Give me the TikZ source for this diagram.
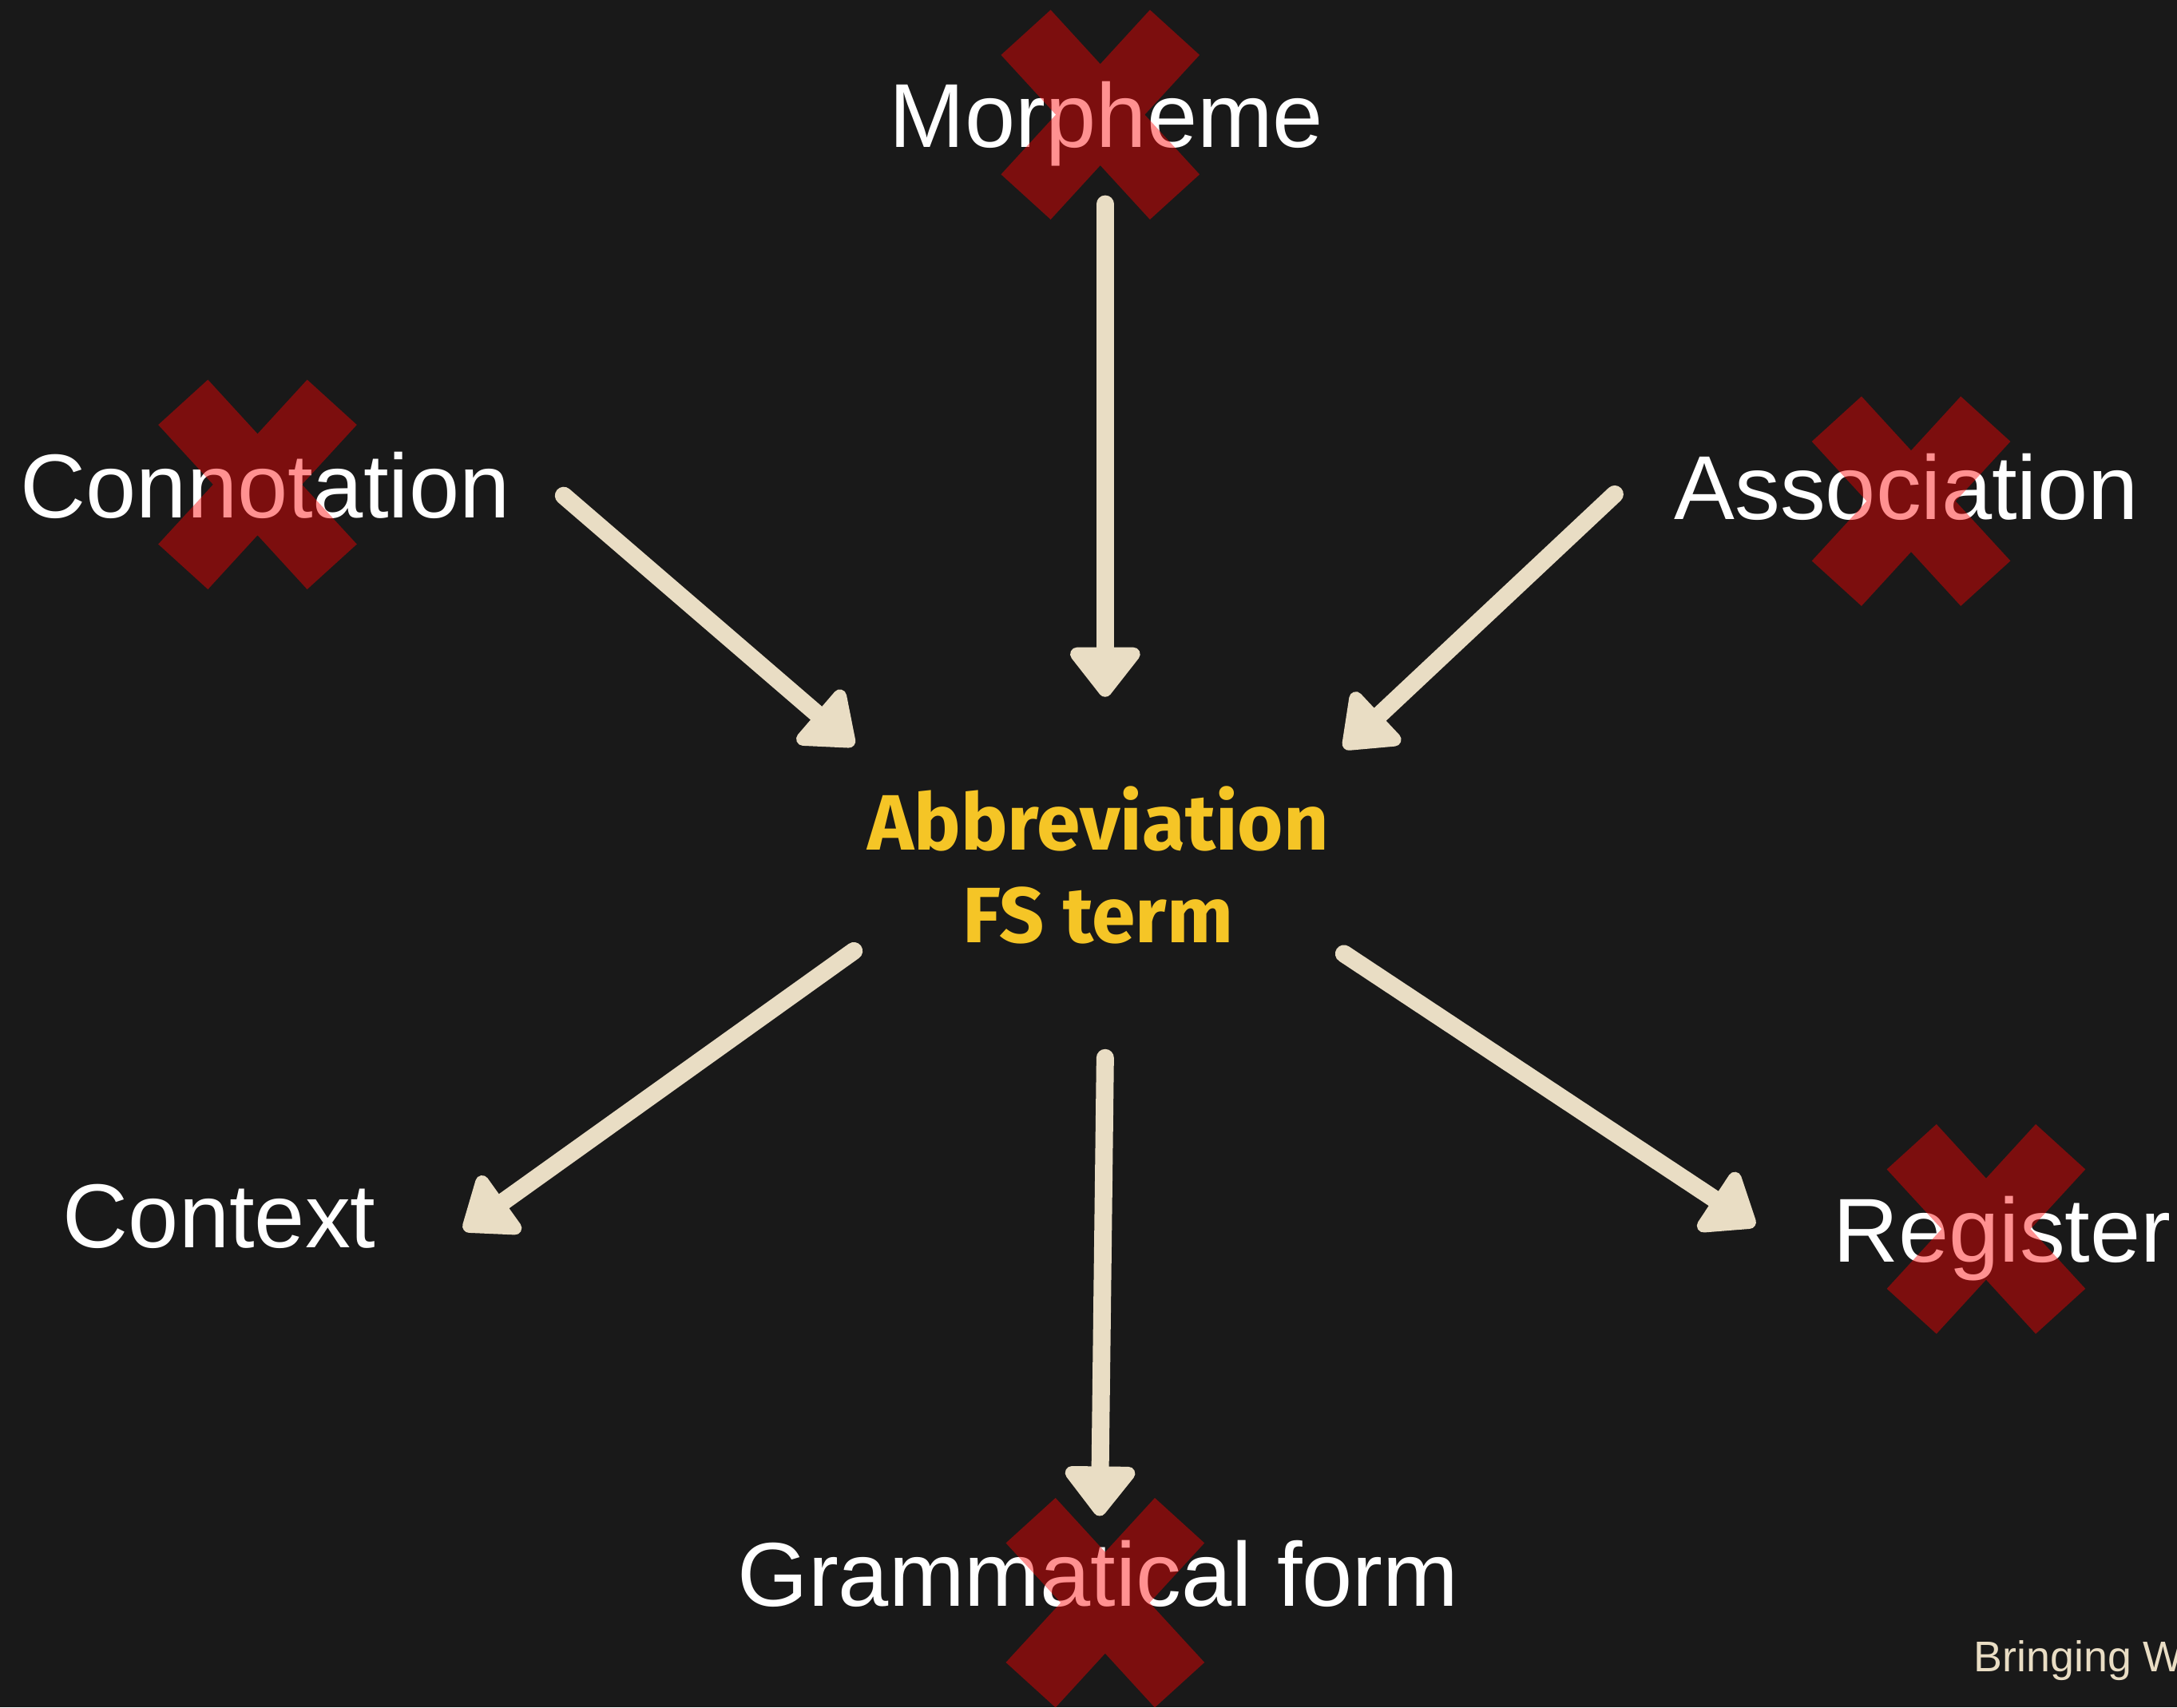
\documentclass[tikz,border=0pt]{standalone}
\usepackage{fontspec}
\setmainfont{Liberation Sans}
\newfontfamily\headfont{Fira Sans}
\usetikzlibrary{arrows.meta}
\definecolor{bgdark}{RGB}{25,25,25}
\definecolor{cream}{RGB}{233,221,196}
\definecolor{termgold}{RGB}{245,197,38}

\begin{document}
\begin{tikzpicture}[x=0.1mm, y=-0.1mm,
      term/.style={text=white, font=\fontsize{18.6}{22}\selectfont, anchor=base, inner sep=0pt},
      arr/.style={-{Triangle[width=5.8mm, length=3.9mm, round]}, line width=3.6pt, line cap=round, draw=cream},
      pics/xmark/.style={code={
        \fill[red, fill opacity=0.43] (-71.5,-43) -- (-35.75,-75.5) -- (0,-36.5) -- (35.75,-75.5)
          -- (71.5,-43) -- (32,0) -- (71.5,43) -- (35.75,75.5) -- (0,36.5) -- (-35.75,75.5)
          -- (-71.5,43) -- (-32,0) -- cycle;}}
  ]
  \useasboundingbox (0,0) rectangle (1568,1230);
  \fill[bgdark] (0,0) rectangle (1568,1230);
  \clip (0,0) rectangle (1568,1230);

  % terms round the centre
  \node[term] (morph) at (797,106) {Morpheme};
  \node[term] (conn) at (191,373) {Connotation};
  \node[term] (assoc) at (1373,374) {Association};
  \node[term] (ctx) at (158,899) {Context};
  \node[term] (reg) at (1442,909) {Register};
  \node[term] (gram) at (791,1157) {Grammatical form};

  \node[anchor=base, align=center, inner sep=0pt, text=termgold,
        font=\headfont\bfseries\fontsize{16.1}{19}\selectfont] (abbr) at (791,679) {Abbreviation\\FS term};

  \node[anchor=base west, inner sep=0pt, text=cream, font=\fontsize{8.8}{10}\selectfont] (credit) at (1421,1204) {Bringing W};

  % arrow ends
  \coordinate (morph-out) at (796,147);
  \coordinate (abbr-n) at (796,502);
  \coordinate (conn-out) at (406,357);
  \coordinate (abbr-nw) at (615,537);
  \coordinate (assoc-out) at (1163,356);
  \coordinate (abbr-ne) at (968,539);
  \coordinate (abbr-sw) at (615,685);
  \coordinate (ctx-in) at (334,886);
  \coordinate (abbr-s) at (796,762);
  \coordinate (gram-in) at (792,1092);
  \coordinate (abbr-se) at (968,687);
  \coordinate (reg-in) at (1264,883);

  \draw[arr] (morph-out) -- (abbr-n);
  \draw[arr] (conn-out) -- (abbr-nw);
  \draw[arr] (assoc-out) -- (abbr-ne);
  \draw[arr] (abbr-sw) -- (ctx-in);
  \draw[arr] (abbr-s) -- (gram-in);
  \draw[arr] (abbr-se) -- (reg-in);

  % crossed-out terms
  \pic at (792.5,82.6) {xmark};
  \pic at (185.5,349) {xmark};
  \pic at (1376.5,361) {xmark};
  \pic at (1430.5,885.3) {xmark};
  \pic at (796,1154.5) {xmark};
\end{tikzpicture}
\end{document}
